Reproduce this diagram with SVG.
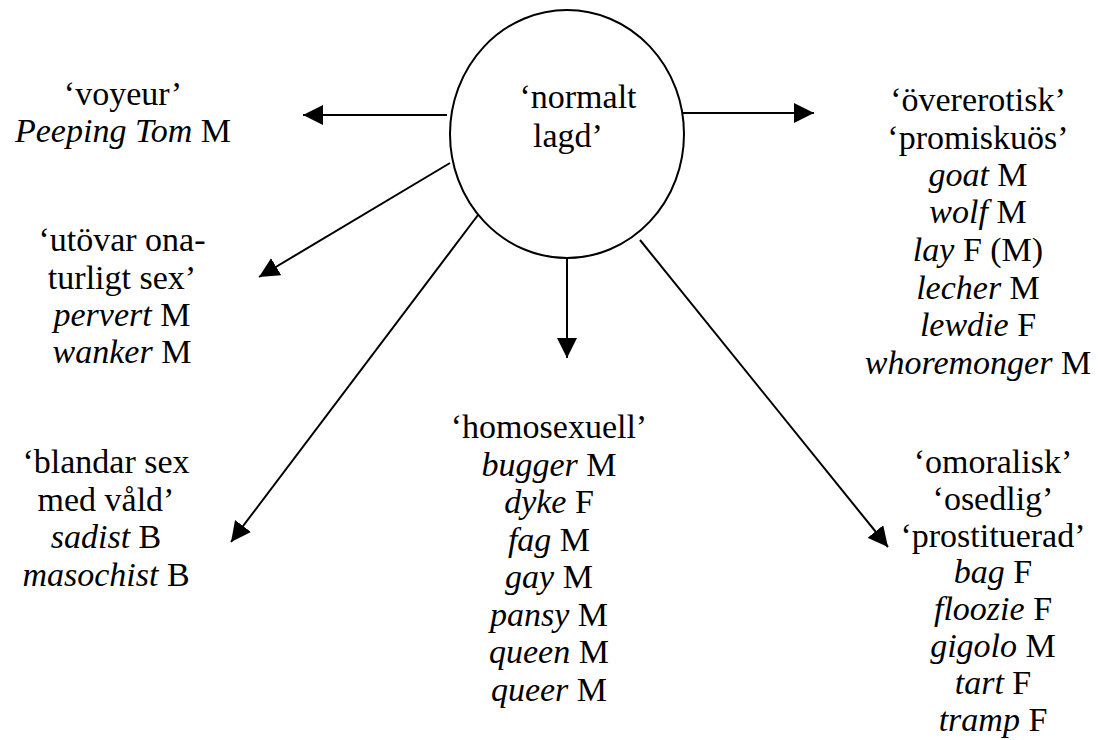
<svg xmlns="http://www.w3.org/2000/svg" width="1098" height="740" viewBox="0 0 1098 740">
<style>
text{font-family:"Liberation Serif","Times New Roman",serif;font-size:34px;fill:#000;text-anchor:middle}
.i{font-style:italic}
.c{fill:none;stroke:#000;stroke-width:2}
.a{fill:none;stroke:#000;stroke-width:2;marker-end:url(#ah)}
</style>
<defs>
<marker id="ah" markerWidth="20" markerHeight="20" refX="20" refY="10" orient="auto" markerUnits="userSpaceOnUse"><path d="M0,0 L20,10 L0,20 z" fill="#000"/></marker>
</defs>
<rect width="1098" height="740" fill="#fff"/>
<g id="center">
<ellipse class="c" cx="567" cy="134" rx="117" ry="124"/>
<text x="578" y="108">‘normalt</text>
<text x="568" y="147">lagd’</text>
</g>
<g id="connectors">
<path class="a" d="M447,115 L303,115"/>
<path class="a" d="M450,163 L259,277"/>
<path class="a" d="M478,215 L231,542"/>
<path class="a" d="M567,258 L567,358"/>
<path class="a" d="M640,240 L888,547"/>
<path class="a" d="M683,113 L814,113"/>
</g>
<g id="voyeur">
<text x="123" y="105">‘voyeur’</text>
<text x="123" y="142"><tspan class="i">Peeping Tom</tspan> M</text>
</g>
<g id="onaturligt">
<text x="122" y="251">‘utövar ona-</text>
<text x="122" y="289">turligt sex’</text>
<text x="122" y="326"><tspan class="i">pervert</tspan> M</text>
<text x="122" y="363"><tspan class="i">wanker</tspan> M</text>
</g>
<g id="vald">
<text x="106" y="473">‘blandar sex</text>
<text x="106" y="511">med våld’</text>
<text x="106" y="548"><tspan class="i">sadist</tspan> B</text>
<text x="106" y="586"><tspan class="i">masochist</tspan> B</text>
</g>
<g id="homosexuell">
<text x="549" y="438">‘homosexuell’</text>
<text x="549" y="476"><tspan class="i">bugger</tspan> M</text>
<text x="549" y="513"><tspan class="i">dyke</tspan> F</text>
<text x="549" y="551"><tspan class="i">fag</tspan> M</text>
<text x="549" y="588"><tspan class="i">gay</tspan> M</text>
<text x="549" y="626"><tspan class="i">pansy</tspan> M</text>
<text x="549" y="663"><tspan class="i">queen</tspan> M</text>
<text x="549" y="701"><tspan class="i">queer</tspan> M</text>
</g>
<g id="promiskuos">
<text x="978" y="111">‘övererotisk’</text>
<text x="978" y="149">‘promiskuös’</text>
<text x="978" y="186"><tspan class="i">goat</tspan> M</text>
<text x="978" y="223"><tspan class="i">wolf</tspan> M</text>
<text x="978" y="261"><tspan class="i">lay</tspan> F (M)</text>
<text x="978" y="299"><tspan class="i">lecher</tspan> M</text>
<text x="978" y="336"><tspan class="i">lewdie</tspan> F</text>
<text x="978" y="374"><tspan class="i">whoremonger</tspan> M</text>
</g>
<g id="omoralisk">
<text x="993" y="473">‘omoralisk’</text>
<text x="993" y="510">‘osedlig’</text>
<text x="993" y="547">‘prostituerad’</text>
<text x="993" y="583"><tspan class="i">bag</tspan> F</text>
<text x="993" y="620"><tspan class="i">floozie</tspan> F</text>
<text x="993" y="657"><tspan class="i">gigolo</tspan> M</text>
<text x="993" y="694"><tspan class="i">tart</tspan> F</text>
<text x="993" y="731"><tspan class="i">tramp</tspan> F</text>
</g>
</svg>
